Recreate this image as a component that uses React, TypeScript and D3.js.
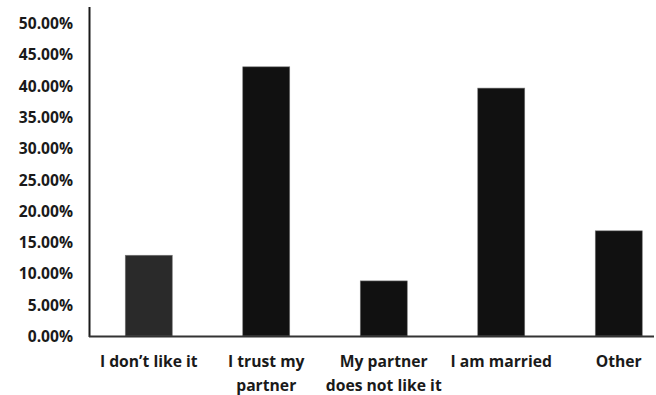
import React from "react";
import * as d3 from "d3";

const categories: string[][] = [
  ["I don\u2019t like it"],
  ["I trust my", "partner"],
  ["My partner", "does not like it"],
  ["I am married"],
  ["Other"],
];
const values: number[] = [0.129, 0.43, 0.088, 0.396, 0.168];
const barColors: string[] = ["#2a2a2a", "#111111", "#111111", "#111111", "#111111"];
const yTicks: number[] = [0, 0.05, 0.1, 0.15, 0.2, 0.25, 0.3, 0.35, 0.4, 0.45, 0.5];

const W = 656;
const H = 395;

export default function App() {
  const keys = categories.map((c) => c.join(" "));
  const x = d3
    .scaleBand<string>()
    .domain(keys)
    .range([90, 677.5])
    .paddingInner(0.6)
    .paddingOuter(0.3);
  const y = d3.scaleLinear().domain([0, 0.5]).range([336, 23]);
  const fmt = d3.format(".2%");
  const font = "'Open Sans', Lato, sans-serif";
  return (
    <svg
      width={W}
      height={H}
      style={{ position: "absolute", left: 0, top: 0, background: "#fff" }}
    >
      {yTicks.map((t) => (
        <text
          key={t}
          x={73}
          y={y(t)}
          textAnchor="end"
          dominantBaseline="central"
          fontFamily={font}
          fontWeight={700}
          fontSize={15.6}
          fill="#1a1a1a"
        >
          {fmt(t)}
        </text>
      ))}
      {values.map((v, i) => (
        <rect
          key={i}
          x={x(keys[i])}
          y={y(v)}
          width={x.bandwidth()}
          height={y(0) - y(v)}
          fill={barColors[i]}
          stroke="#777"
          strokeWidth={0.6}
        />
      ))}
      <line x1={89.5} x2={89.5} y1={7} y2={337} stroke="#1a1a1a" strokeWidth={2} />
      <line x1={89} x2={654} y1={336.5} y2={336.5} stroke="#333" strokeWidth={2} />
      {categories.map((lines, i) => (
        <text
          key={i}
          x={(x(keys[i]) as number) + x.bandwidth() / 2}
          textAnchor="middle"
          fontFamily={font}
          fontWeight={700}
          fontSize={15.7}
          fill="#1a1a1a"
        >
          {lines.map((l, j) => (
            <tspan key={j} x={(x(keys[i]) as number) + x.bandwidth() / 2} y={361 + j * 24} dominantBaseline="central">
              {l}
            </tspan>
          ))}
        </text>
      ))}
    </svg>
  );
}
